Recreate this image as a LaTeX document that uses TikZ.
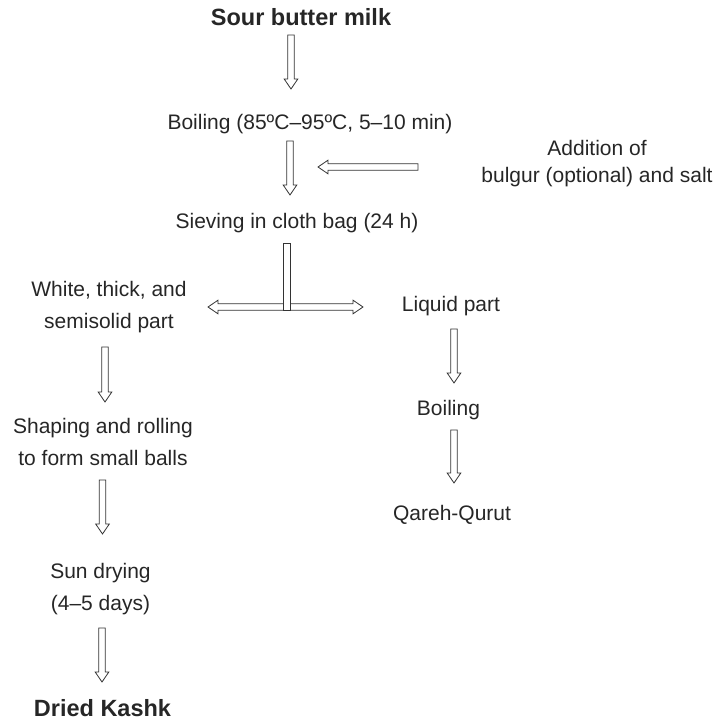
\documentclass[tikz,border=0pt]{standalone}
\usepackage{fontspec}
\setmainfont{Liberation Sans}
\usetikzlibrary{calc}

% hollow block arrow from #1 to #2
\newcommand\hollowarrow[2]{%
  \coordinate (hb) at ($(#2)!10pt!(#1)$);
  \draw[harrow] ($(#1)!3.3pt!90:(#2)$) -- ($(hb)!3.3pt!90:(#2)$)
    -- ($(hb)!6.8pt!90:(#2)$) -- (#2) -- ($(hb)!6.8pt!-90:(#2)$)
    -- ($(hb)!3.3pt!-90:(#2)$) -- ($(#1)!3.3pt!-90:(#2)$) -- cycle;}
% same, with a head at both ends
\newcommand\hollowsplit[2]{%
  \coordinate (ha) at ($(#1)!10pt!(#2)$);
  \coordinate (hb) at ($(#2)!10pt!(#1)$);
  \draw[harrow] (#1) -- ($(ha)!6.8pt!90:(#2)$) -- ($(ha)!3.3pt!90:(#2)$)
    -- ($(hb)!3.3pt!-90:(#1)$) -- ($(hb)!6.8pt!-90:(#1)$) -- (#2)
    -- ($(hb)!6.8pt!90:(#1)$) -- ($(hb)!3.3pt!90:(#1)$)
    -- ($(ha)!3.3pt!-90:(#2)$) -- ($(ha)!6.8pt!-90:(#2)$) -- cycle;}

\begin{document}
\begin{tikzpicture}[x=1pt,y=-1pt,
  harrow/.style={draw=black!80,line width=0.8pt,line join=miter,fill=white},
  txt/.style={font=\fontsize{21}{32}\selectfont,text=black!85,align=center,inner sep=0pt,anchor=base},
  ttl/.style={font=\bfseries\fontsize{23.5}{28}\selectfont,text=black!85,inner sep=0pt,anchor=base}]
\useasboundingbox (0,0) rectangle (716,719);

% steps (base = last line)
\node[ttl] (milk) at (301,26) {Sour butter milk};
\node[txt] (boil) at (310,130) {Boiling (85ºC–95ºC, 5–10 min)};
\node[txt,font=\fontsize{21}{27}\selectfont] (add) at (597,183) {Addition of\\bulgur (optional) and salt};
\node[txt] (sieve) at (297,228) {Sieving in cloth bag (24 h)};
\node[txt] (solid) at (109,328) {White, thick, and\\semisolid part};
\node[txt] (liquid) at (451,311) {Liquid part};
\node[txt] (shape) at (103,465) {Shaping and rolling\\to form small balls};
\node[txt] (sun) at (100.5,610) {Sun drying\\(4–5 days)};
\node[ttl] (kashk) at (102.5,716) {Dried Kashk};
\node[txt] (boil2) at (448.5,415) {Boiling};
\node[txt] (qurut) at (452,520) {Qareh-Qurut};

% arrow ends
\coordinate (a1) at (291,35);   \coordinate (b1) at (291,89);
\coordinate (a2) at (290,141);  \coordinate (b2) at (290,195);
\coordinate (a3) at (418,167);  \coordinate (b3) at (318,167);
\coordinate (sl) at (208,307);  \coordinate (sr) at (363,307);
\coordinate (l1) at (105,347);  \coordinate (m1) at (105,402);
\coordinate (l2) at (102.5,480);\coordinate (m2) at (102.5,534);
\coordinate (l3) at (102,628);  \coordinate (m3) at (102,682);
\coordinate (r1) at (454,329);  \coordinate (q1) at (454,383);
\coordinate (r2) at (454,430);  \coordinate (q2) at (454,483);

\hollowarrow{a1}{b1}
\hollowarrow{a2}{b2}
\hollowarrow{a3}{b3}
\hollowsplit{sl}{sr}
\draw[harrow] (283,243) rectangle (290,310.3);
\hollowarrow{l1}{m1}
\hollowarrow{l2}{m2}
\hollowarrow{l3}{m3}
\hollowarrow{r1}{q1}
\hollowarrow{r2}{q2}
\end{tikzpicture}
\end{document}
